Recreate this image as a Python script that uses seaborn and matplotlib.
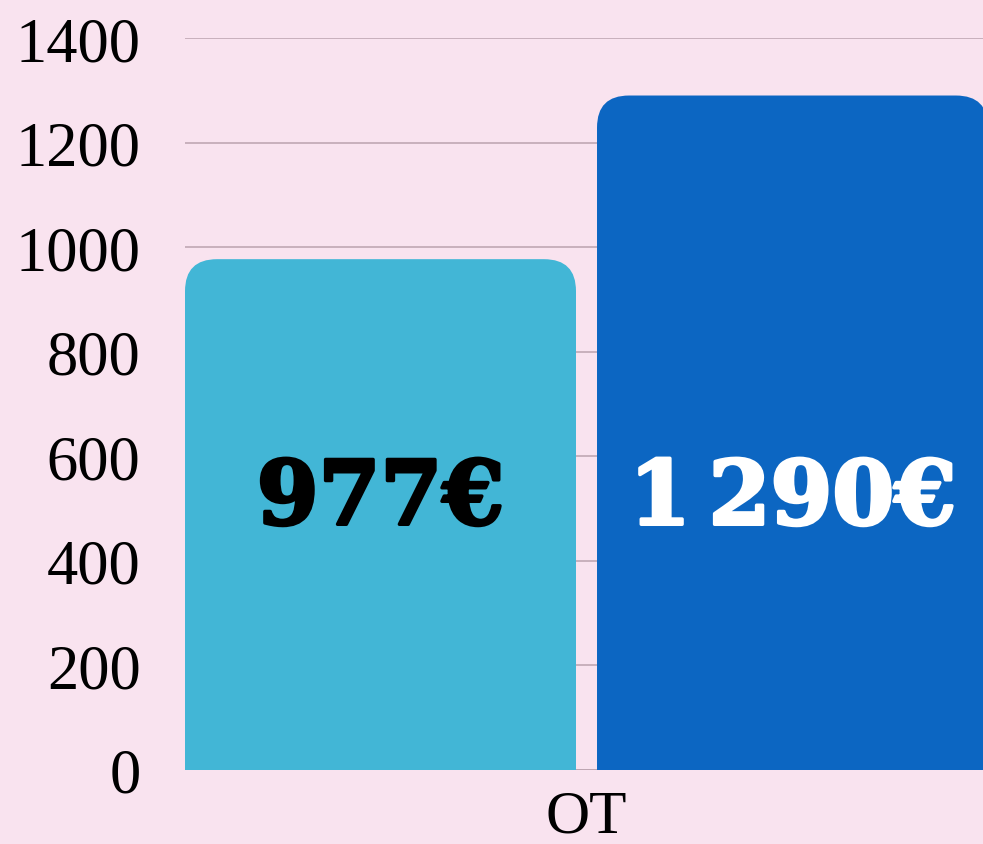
import pandas as pd
import numpy as np
import seaborn as sns
import matplotlib.pyplot as plt
import matplotlib.patheffects as pe
from matplotlib.patches import FancyBboxPatch

# données
categories = ["OT"]
series = ["Série 1", "Série 2"]
valeurs = [977, 1290]
etiquettes = ["977€", "1\u2009290€"]
couleurs = ["#42B6D6", "#0C66C2"]
couleurs_texte = ["black", "white"]
yticks = [0, 200, 400, 600, 800, 1000, 1200, 1400]

df = pd.DataFrame({"categorie": categories * len(series), "serie": series, "valeur": valeurs})

fond = "#F9E3EF"
sns.set_theme(style="white", rc={"axes.facecolor": fond, "figure.facecolor": fond})
plt.rcParams["font.family"] = ["Liberation Serif", "DejaVu Serif"]

fig = plt.figure(figsize=(9.83, 8.45), dpi=100)
ax = fig.add_axes([185 / 983, 74 / 845, 800 / 983, 732 / 845])

sns.barplot(data=df, x="categorie", y="valeur", hue="serie", palette=couleurs,
            width=0.8, gap=0.051, legend=False, ax=ax, saturation=1)

ax.set_ylim(0, 1400)
ax.set_yticks(yticks)
ax.set_axisbelow(True)
ax.yaxis.grid(True, color="#C4ACB8", linewidth=1.3)
ax.xaxis.grid(False)
for s in ["left", "right", "top", "bottom"]:
    ax.spines[s].set_visible(False)
ax.axhline(0, color="#7A6870", linewidth=2, zorder=0.5)

ax.tick_params(axis="y", length=0, pad=32, labelsize=45, labelcolor="black")
ax.tick_params(axis="x", length=0, pad=14, labelsize=44, labelcolor="black")
ax.set_xlabel("")
ax.set_ylabel("")

# barres à coins arrondis
barres = list(ax.patches)
b0 = barres[0]
par_px = b0.get_width() / 391
ax.set_xlim(b0.get_x(), b0.get_x() + 800 * par_px)
rx = 32 * par_px
ry = 32 * 1400 / 732
for b, c in zip(barres, couleurs):
    x, w, h = b.get_x(), b.get_width(), b.get_height()
    b.set_visible(False)
    p = FancyBboxPatch((x, -200), w, h + 200,
                       boxstyle=f"round,pad=0,rounding_size={rx}",
                       mutation_aspect=ry / rx, facecolor=c, edgecolor="none",
                       zorder=2)
    ax.add_patch(p)

for b, txt, tc in zip(barres, etiquettes, couleurs_texte):
    ax.text(b.get_x() + b.get_width() / 2, 535, txt, ha="center", va="center_baseline",
            fontsize=64, fontweight="black", color=tc, zorder=3,
            family=["DejaVu Serif"],
            path_effects=[pe.withStroke(linewidth=2.5, foreground=tc)])

fig.savefig("out.png", dpi=100, facecolor=fond)
